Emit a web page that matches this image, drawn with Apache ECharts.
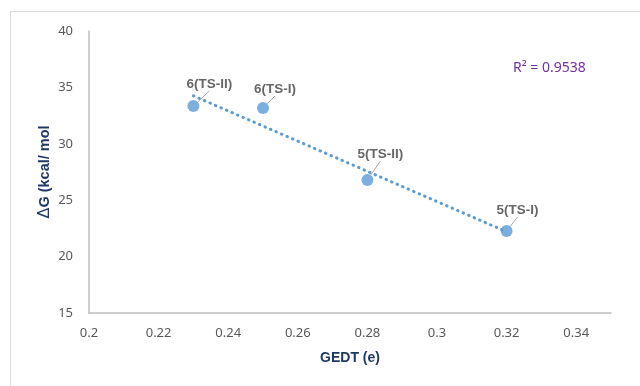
<!DOCTYPE html>
<html>
<head>
<meta charset="utf-8">
<script src="https://cdn.jsdelivr.net/npm/echarts@6/dist/echarts.min.js"></script>
<style>
  html, body { margin: 0; padding: 0; background: #fff; }
  #frame { position: absolute; left: 10px; top: 11px; width: 640px; height: 400px; border: 1px solid #d9d9d9; box-sizing: border-box; }
  #chart { position: absolute; left: 0; top: 0; width: 640px; height: 386px; }
</style>
</head>
<body>
<div id="frame"></div>
<div id="chart"></div>
<script>
// GEDT (e) vs activation free energy (kcal/mol) for each transition state
const names = ['6(TS-II)', '6(TS-I)', '5(TS-II)', '5(TS-I)'];
const gedt = [0.23, 0.25, 0.28, 0.32];
const deltaG = [33.35, 33.17, 26.8, 22.27];
const rSquaredText = 'R² = 0.9538';

// least-squares fit for the trendline, spanning the data range
const n = gedt.length;
const mx = gedt.reduce((a, b) => a + b, 0) / n;
const my = deltaG.reduce((a, b) => a + b, 0) / n;
let sxy = 0, sxx = 0;
for (let i = 0; i < n; i++) { sxy += (gedt[i] - mx) * (deltaG[i] - my); sxx += (gedt[i] - mx) ** 2; }
const slope = sxy / sxx, icpt = my - slope * mx;
const xMin = Math.min(...gedt), xMax = Math.max(...gedt);
const trend = [[xMin, icpt + slope * xMin], [xMax, icpt + slope * xMax]];

// label offsets (leader lines drawn by the library)
const labelShift = [[16, -22], [12, -19], [13, -26], [11, -21]];

const chart = echarts.init(document.getElementById('chart'), null, { renderer: 'canvas' });
chart.setOption({
  animation: false,
  grid: { left: 89, right: 29, top: 31, bottom: 73 },
  xAxis: {
    type: 'value', min: 0.2, max: 0.35, interval: 0.02,
    name: 'GEDT (e)', nameLocation: 'middle', nameGap: 38, nameMoveOverlap: false,
    nameTextStyle: { color: '#1f3864', fontWeight: 'bold', fontSize: 14, fontFamily: 'Liberation Sans' },
    axisLine: { lineStyle: { color: '#bfbfbf', width: 1.5 } },
    axisTick: { show: false },
    splitLine: { show: false },
    axisLabel: { color: '#595959', fontSize: 13, fontFamily: 'Noto Sans', margin: 14, showMaxLabel: false,
      formatter: v => (Math.abs(v - 0.35) < 1e-9 ? '' : String(+v.toFixed(2))) }
  },
  yAxis: {
    type: 'value', min: 15, max: 40, interval: 5,
    name: '{d|Δ}{t|G (kcal/ mol}', nameLocation: 'middle', nameGap: 36, nameMoveOverlap: false,
    nameTextStyle: {
      rich: {
        d: { color: '#1f3864', fontSize: 16, fontFamily: 'DejaVu Sans' },
        t: { color: '#1f3864', fontWeight: 'bold', fontSize: 14.5, fontFamily: 'Liberation Sans' }
      }
    },
    axisLine: { show: true, lineStyle: { color: '#bfbfbf', width: 1.5 } },
    axisTick: { show: false },
    splitLine: { show: false },
    axisLabel: { color: '#595959', fontSize: 13, fontFamily: 'Noto Sans', margin: 16 }
  },
  series: [
    {
      type: 'line', data: trend, symbol: 'none', silent: true, z: 1,
      lineStyle: { color: '#5b9bd5', width: 3, type: [0.5, 5.5], cap: 'round' }
    },
    {
      type: 'scatter', z: 3, symbolSize: 12,
      itemStyle: { color: '#5b9bd5' },
      data: gedt.map((x, i) => ({ value: [x, deltaG[i]], name: names[i] })),
      label: {
        show: true, position: 'inside', formatter: p => p.name,
        color: '#404040', fontWeight: 'bold', fontSize: 13.5, fontFamily: 'Liberation Sans'
      },
      labelLine: { show: true, lineStyle: { color: '#a6a6a6', width: 1 } },
      labelLayout: p => ({ dx: labelShift[p.dataIndex][0], dy: labelShift[p.dataIndex][1] })
    }
  ],
  graphic: [
    {
      type: 'text', left: 513, top: 61,
      style: { text: rSquaredText, fill: '#7030a0', fontSize: 14, fontFamily: 'Noto Sans' }
    }
  ]
});
</script>
</body>
</html>
